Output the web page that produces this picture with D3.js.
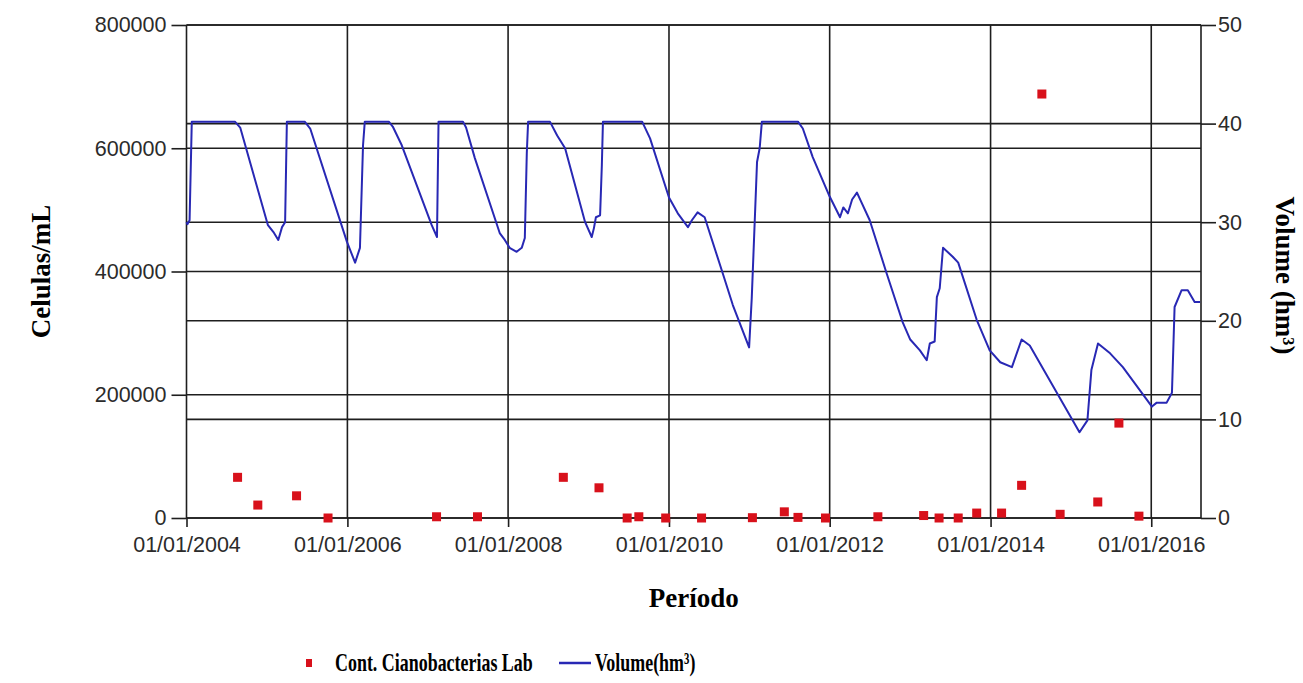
<!DOCTYPE html>
<html>
<head>
<meta charset="utf-8">
<script src="https://cdn.jsdelivr.net/npm/d3@7"></script>
<style>
body { margin: 0; background: #fff; }
</style>
</head>
<body>
<script>

// cianobacterias (celulas/mL), lab samples
var cianoDates = ['2004-08-20','2004-11-20','2005-05-15','2005-10-05','2007-02-10','2007-08-15',
	'2008-09-08','2009-02-17','2009-06-25','2009-08-17','2009-12-17','2010-05-29','2011-01-15',
	'2011-06-09','2011-08-10','2011-12-13','2012-08-07','2013-03-03','2013-05-12','2013-08-07',
	'2013-10-30','2014-02-20','2014-05-22','2014-08-22','2014-11-13','2015-05-03','2015-08-07','2015-11-06'];
var cianoValues = [66000,21000,36000,0,2000,2000,
	66000,49000,0,2000,0,0,500,
	10000,1000,0,2000,4000,0,0,
	8000,8000,53000,688000,6000,26000,154000,3000];

// reservoir volume (hm3)
var volDates = ['2004-01-01','2004-01-05','2004-01-15','2004-01-25','2004-08-08','2004-09-01',
	'2005-01-05','2005-01-30','2005-02-21','2005-03-10','2005-03-24','2005-04-01','2005-06-21','2005-07-16',
	'2005-12-30','2006-02-05','2006-02-27','2006-03-13','2006-03-21','2006-07-08','2006-07-26','2006-09-05',
	'2007-01-19','2007-02-12','2007-02-19','2007-06-10','2007-06-24','2007-08-03','2007-11-24','2007-12-17',
	'2008-01-08','2008-02-09','2008-03-03','2008-03-17','2008-03-26','2008-04-01','2008-07-09','2008-08-11',
	'2008-09-16','2008-12-16','2009-01-15','2009-01-25','2009-02-03','2009-02-22','2009-03-02','2009-03-07',
	'2009-09-01','2009-10-07','2010-01-01','2010-02-10','2010-03-28','2010-04-15','2010-05-11','2010-06-12',
	'2010-09-01','2010-10-18','2010-12-31','2011-01-12','2011-02-05','2011-02-17','2011-02-27','2011-08-10',
	'2011-09-01','2011-10-16','2012-01-01','2012-02-17','2012-03-03','2012-03-24','2012-04-12','2012-05-04',
	'2012-07-01','2012-09-16','2012-11-27','2013-01-01','2013-02-14','2013-03-17','2013-03-31','2013-04-22',
	'2013-05-02','2013-05-15','2013-05-30','2013-07-13','2013-08-07','2013-10-30','2013-12-28','2014-02-14',
	'2014-04-08','2014-05-22','2014-06-28','2015-02-09','2015-03-17','2015-04-04','2015-05-04','2015-06-28',
	'2015-08-25','2016-01-04','2016-01-26','2016-03-11','2016-04-04','2016-04-16','2016-05-18','2016-06-15',
	'2016-07-16','2016-08-10'];
var volValues = [30.0,29.8,30.2,40.2,40.2,39.6,
	29.7,29.0,28.2,29.5,30.0,40.2,40.2,39.5,
	28.0,25.9,27.4,37.8,40.2,40.2,39.7,37.8,
	29.7,28.5,40.2,40.2,39.6,36.5,28.9,28.2,
	27.4,27.0,27.4,28.4,37.0,40.2,40.2,38.8,
	37.5,30.0,28.5,29.4,30.5,30.7,35.8,40.2,
	40.2,38.5,32.5,30.9,29.5,30.2,31.0,30.5,
	24.9,21.6,17.3,22.3,36.1,37.5,40.2,40.2,
	39.5,36.6,32.6,30.5,31.5,30.9,32.3,33.0,
	30.2,24.8,19.9,18.1,17.0,16.0,17.7,17.9,
	22.4,23.3,27.4,26.5,25.9,20.1,17.0,15.8,
	15.3,18.1,17.5,8.7,9.9,15.0,17.7,16.7,
	15.3,11.3,11.7,11.7,12.7,21.4,23.1,23.1,
	21.9,21.9];

var leftTicks = [0,200000,400000,600000,800000];
var rightTicks = [0,10,20,30,40,50];
var xStart = '2004-01-01', xEnd = '2016-08-14';

var legendLabels = ['Cont. Cianobacterias Lab','Volume(hm\u00B3)'];

var width = 1303, height = 683;
var pLeft = 186.5, pRight = 1201, pTop = 25, pBottom = 518;
var gridColor = '#1e1e1e';

var parse = d3.timeParse('%Y-%m-%d');
var ciano = cianoDates.map(function (d,i) {return {date: parse(d), v: cianoValues[i]};});
var vol = volDates.map(function (d,i) {return {date: parse(d), v: volValues[i]};});

var x = d3.scaleTime().domain([parse(xStart), parse(xEnd)]).range([pLeft, pRight]);
var yL = d3.scaleLinear().domain([0,800000]).range([pBottom, pTop]);
var yR = d3.scaleLinear().domain([0,50]).range([pBottom, pTop]);
var xTicks = d3.timeYear.every(2).range(parse('2004-01-01'), parse('2016-06-01'));

var svg = d3.select('body').append('svg')
	.attr('width', width)
	.attr('height', height)
	.style('display','block');

svg.append('rect').attr('width',width).attr('height',height).attr('fill','#fff');

// grid: horizontal lines for both axes, vertical per 2 years + right border
svg.selectAll('.gridL').data(leftTicks).enter()
	.append('line')
	.attr('class','gridL')
	.attr('x1',pLeft).attr('x2',pRight)
	.attr('y1',function (d) {return yL(d);})
	.attr('y2',function (d) {return yL(d);})
	.attr('stroke',gridColor).attr('stroke-width',1.6);

svg.selectAll('.gridR').data(rightTicks).enter()
	.append('line')
	.attr('class','gridR')
	.attr('x1',pLeft).attr('x2',pRight)
	.attr('y1',function (d) {return yR(d);})
	.attr('y2',function (d) {return yR(d);})
	.attr('stroke',gridColor).attr('stroke-width',1.6);

svg.selectAll('.gridX').data(xTicks).enter()
	.append('line')
	.attr('class','gridX')
	.attr('x1',function (d) {return x(d);})
	.attr('x2',function (d) {return x(d);})
	.attr('y1',pTop).attr('y2',pBottom)
	.attr('stroke',gridColor).attr('stroke-width',1.6);

svg.append('line')
	.attr('x1',pRight).attr('x2',pRight)
	.attr('y1',pTop).attr('y2',pBottom)
	.attr('stroke',gridColor).attr('stroke-width',1.6);

// axes (ticks outward, no domain path)
var tickFont = function (g) {
	g.select('.domain').remove();
	g.selectAll('line').attr('stroke',gridColor).attr('stroke-width',1.6);
	g.selectAll('text')
		.attr('fill','#2b2b2b')
		.attr('font-family','"Liberation Sans", Arial, sans-serif')
		.attr('font-size','21.5px');
};

svg.append('g')
	.attr('transform','translate('+pLeft+',0)')
	.call(d3.axisLeft(yL).tickValues(leftTicks).tickFormat(d3.format('d')).tickSize(15).tickPadding(5))
	.call(tickFont);

svg.append('g')
	.attr('transform','translate('+pRight+',0)')
	.call(d3.axisRight(yR).tickValues(rightTicks).tickSize(15).tickPadding(2))
	.call(tickFont);

svg.append('g')
	.attr('transform','translate(0,'+pBottom+')')
	.call(d3.axisBottom(x).tickValues(xTicks).tickFormat(d3.timeFormat('%d/%m/%Y')).tickSize(9).tickPadding(10))
	.call(tickFont);

// volume line
var line = d3.line()
	.x(function (d) {return x(d.date);})
	.y(function (d) {return yR(d.v);});

svg.append('path')
	.datum(vol)
	.attr('d', line)
	.attr('fill','none')
	.attr('stroke','#2828b4')
	.attr('stroke-width',2)
	.attr('stroke-linejoin','round');

// cianobacterias markers
var mSize = 9;
svg.selectAll('.ciano').data(ciano).enter()
	.append('rect')
	.attr('class','ciano')
	.attr('x',function (d) {return x(d.date)-mSize/2;})
	.attr('y',function (d) {return yL(d.v)-mSize/2;})
	.attr('width',mSize)
	.attr('height',mSize)
	.attr('fill','#d8111b');

// axis titles
var titleFont = '"Liberation Serif", "Times New Roman", serif';

svg.append('text')
	.attr('transform','translate(50,'+((pTop+pBottom)/2)+') rotate(-90)')
	.attr('text-anchor','middle')
	.attr('font-family',titleFont)
	.attr('font-weight','bold')
	.attr('font-size','27px')
	.text('Celulas/mL');

svg.append('text')
	.attr('transform','translate(1276,'+((pTop+pBottom)/2+4)+') rotate(90)')
	.attr('text-anchor','middle')
	.attr('font-family',titleFont)
	.attr('font-weight','bold')
	.attr('font-size','27px')
	.text('Volume (hm\u00B3)');

svg.append('text')
	.attr('x',(pLeft+pRight)/2)
	.attr('y',607)
	.attr('text-anchor','middle')
	.attr('font-family',titleFont)
	.attr('font-weight','bold')
	.attr('font-size','27px')
	.text('Período');

// legend (text is squeezed horizontally, like in the source image)
svg.append('rect')
	.attr('x',306).attr('y',659)
	.attr('width',6).attr('height',8)
	.attr('fill','#d8111b');

svg.append('text')
	.attr('transform','translate(335,671) scale(0.69,1)')
	.attr('font-family',titleFont)
	.attr('font-weight','bold')
	.attr('font-size','26px')
	.text(legendLabels[0]);

svg.append('line')
	.attr('x1',559).attr('x2',591)
	.attr('y1',663).attr('y2',663)
	.attr('stroke','#2828b4')
	.attr('stroke-width',2.5);

svg.append('text')
	.attr('transform','translate(595,671) scale(0.69,1)')
	.attr('font-family',titleFont)
	.attr('font-weight','bold')
	.attr('font-size','26px')
	.text(legendLabels[1]);

</script>
</body>
</html>
